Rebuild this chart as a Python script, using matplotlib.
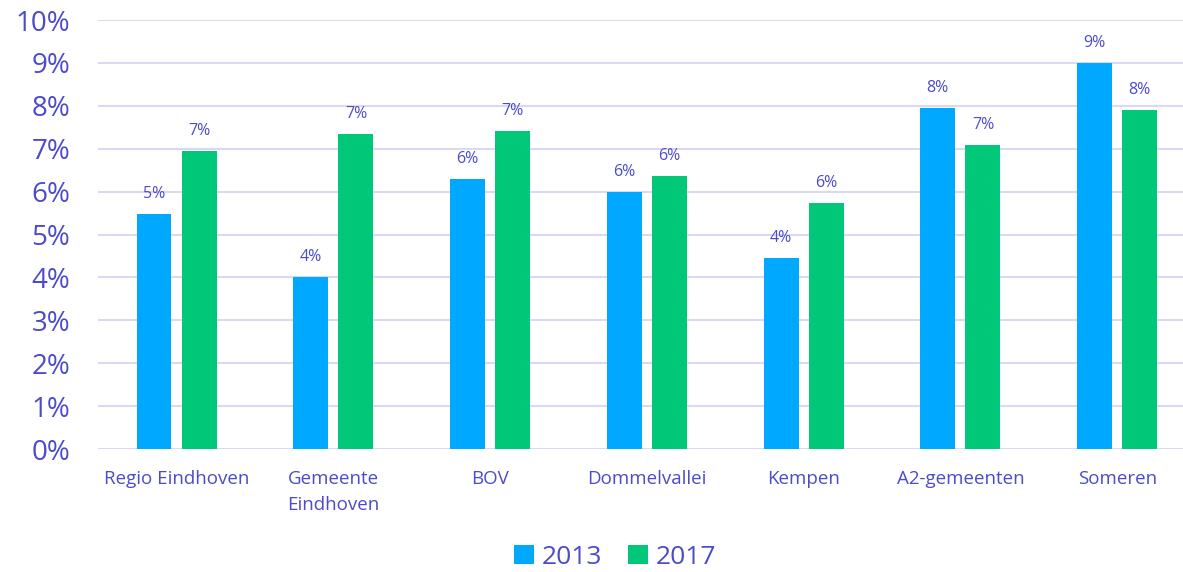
import numpy as np
import matplotlib
matplotlib.use("Agg")
import matplotlib.pyplot as plt

# data (percent)
categories = ["Regio Eindhoven", "Gemeente\nEindhoven", "BOV", "Dommelvallei",
              "Kempen", "A2-gemeenten", "Someren"]
values_2013 = [5.48, 4.01, 6.29, 5.99, 4.45, 7.95, 9.0]
values_2017 = [6.95, 7.34, 7.41, 6.36, 5.73, 7.09, 7.90]
series_names = ["2013", "2017"]

text_color = "#4B4BCC"
blue = "#00A8FF"
green = "#00C878"
grid_color = "#D9D9F3"

plt.rcParams["font.family"] = ["Open Sans", "DejaVu Sans"]

fig = plt.figure(figsize=(11.83, 5.72), dpi=100)
ax = fig.add_axes([0.083, 0.215, 0.917, 0.75])

x = np.arange(len(categories))
w = 0.223
off = 0.144
b1 = ax.bar(x - off, values_2013, w, color=blue, label=series_names[0], zorder=3)
b2 = ax.bar(x + off, values_2017, w, color=green, label=series_names[1], zorder=3)

for bars, vals in ((b1, values_2013), (b2, values_2017)):
    for rect, v in zip(bars, vals):
        ax.text(rect.get_x() + rect.get_width() / 2, v + 0.28, f"{round(v):.0f}%",
                ha="center", va="bottom", fontsize=11.5, color=text_color)

ax.set_ylim(0, 10)
ax.set_xlim(-0.5, 6.42)
ax.set_yticks(range(0, 11))
ax.set_yticklabels([f"{i}%" for i in range(0, 11)])
ax.set_xticks(x)
ax.set_xticklabels(categories, fontsize=13.5, color=text_color, linespacing=1.6, va="top")
ax.tick_params(axis="y", labelsize=20, colors=text_color, length=0, pad=20)
ax.tick_params(axis="x", length=0, pad=15)
ax.grid(axis="y", color=grid_color, linewidth=1.5, zorder=0)
for s in ax.spines.values():
    s.set_visible(False)

leg = fig.legend(handles=[b1, b2], loc="center", bbox_to_anchor=(0.52, 0.026),
                 ncol=2, frameon=False, fontsize=19, handlelength=0.75,
                 handleheight=0.75, handletextpad=0.3, columnspacing=1.0)
for t in leg.get_texts():
    t.set_color(text_color)

fig.savefig("out.png", dpi=100)
